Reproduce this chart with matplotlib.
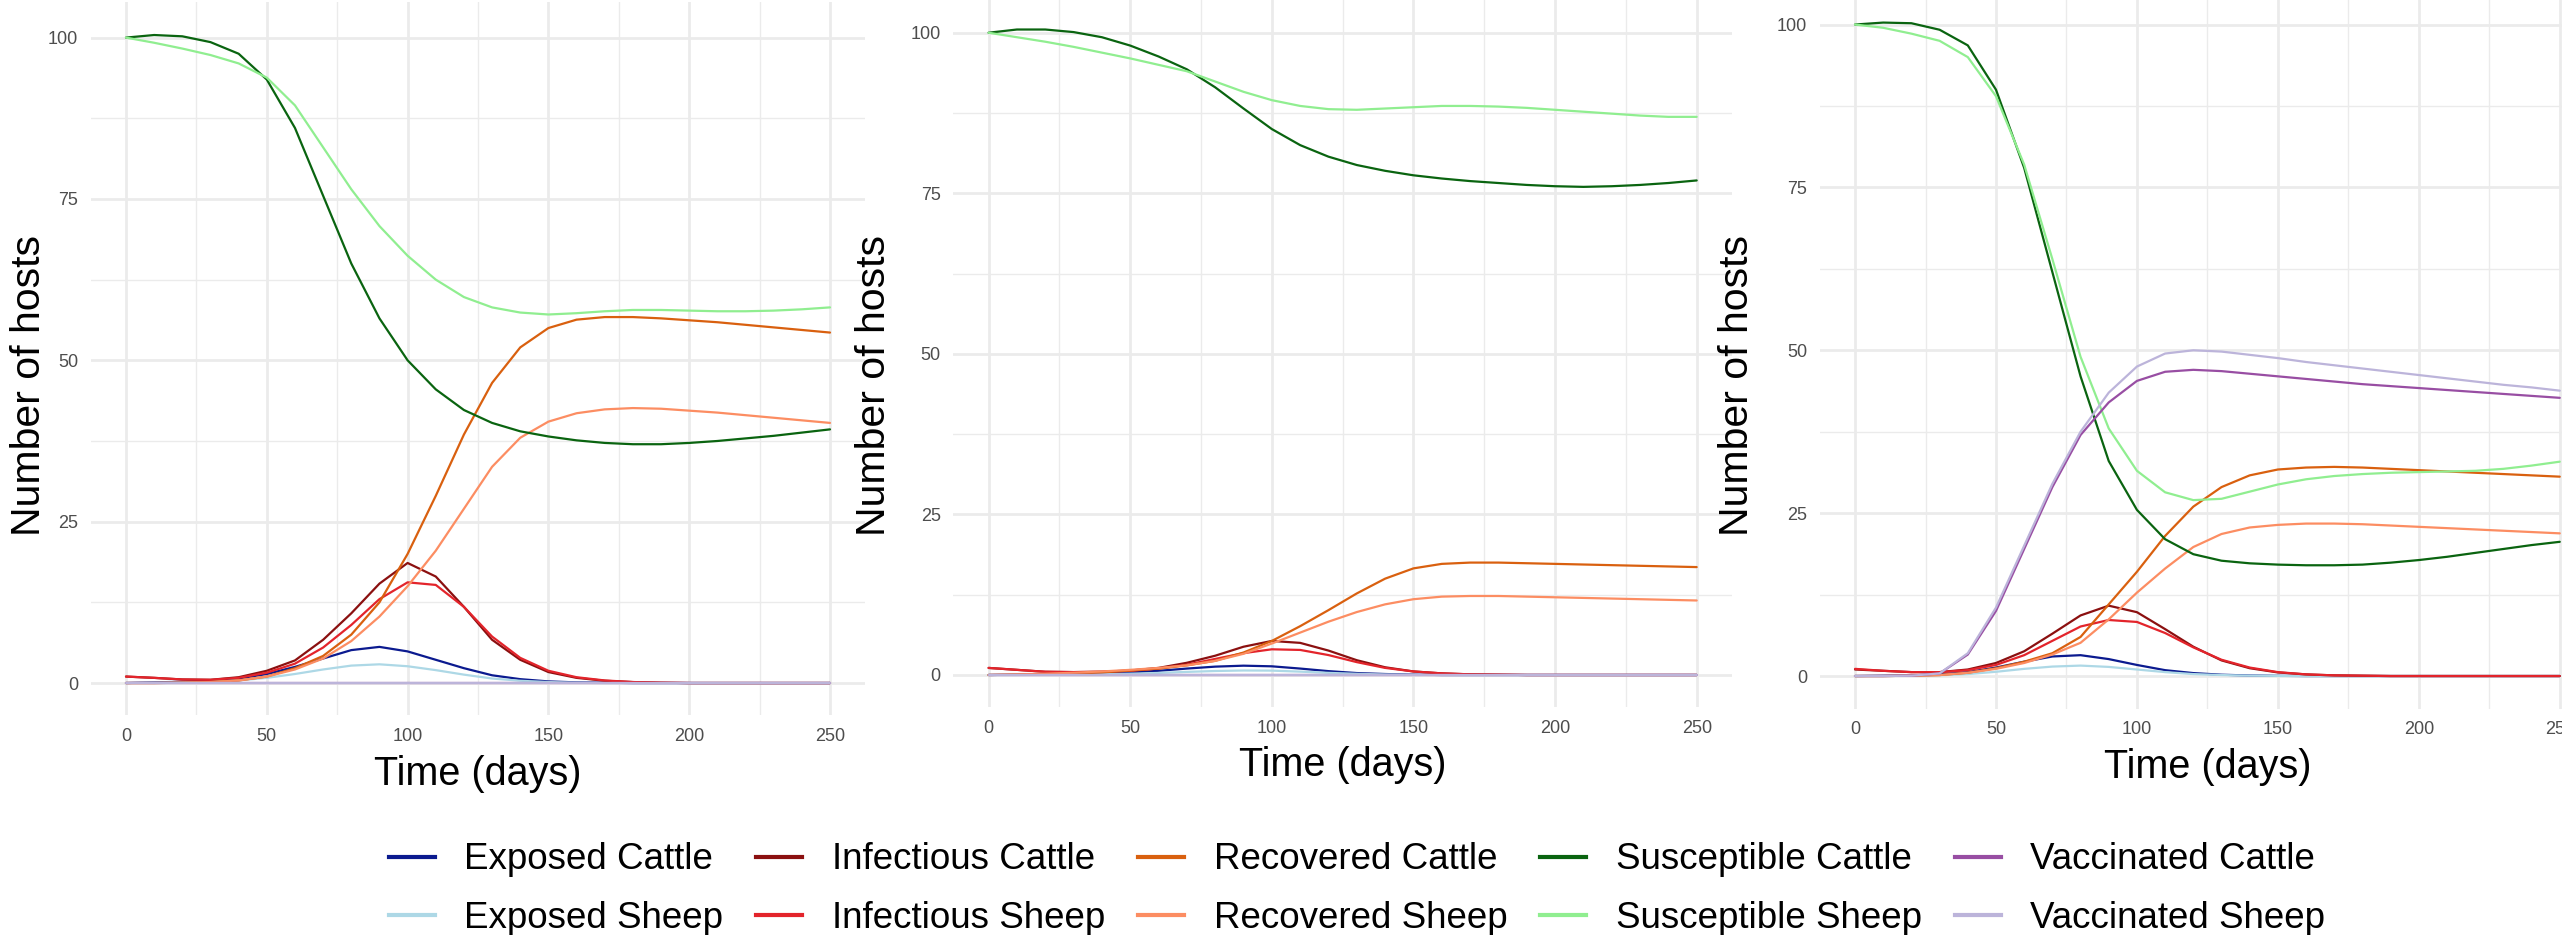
import matplotlib
matplotlib.use("Agg")
import matplotlib.pyplot as plt
from matplotlib.ticker import MultipleLocator

plt.rcParams['font.family'] = ['Liberation Sans', 'DejaVu Sans']

days = [0, 10, 20, 30, 40, 50, 60, 70, 80, 90, 100, 110, 120, 130, 140, 150,
        160, 170, 180, 190, 200, 210, 220, 230, 240, 250]

labels = ["Exposed Cattle", "Exposed Sheep", "Infectious Cattle", "Infectious Sheep",
          "Recovered Cattle", "Recovered Sheep", "Susceptible Cattle", "Susceptible Sheep",
          "Vaccinated Cattle", "Vaccinated Sheep"]
colors = ["#0b1a8f", "#add8e6", "#8b1010", "#e3242b", "#d9600f", "#fc8d62",
          "#0a6410", "#90ee90", "#984ea3", "#bcb4da"]

# panel 1
p1_exp_cattle = [0, 0.1, 0.2, 0.35, 0.7, 1.4, 2.5, 3.8, 5.1, 5.6, 4.9, 3.6, 2.3, 1.2, 0.6, 0.25,
                 0.1, 0.05, 0, 0, 0, 0, 0, 0, 0, 0]
p1_exp_sheep = [0, 0.05, 0.1, 0.2, 0.4, 0.8, 1.4, 2.1, 2.7, 2.9, 2.6, 2.0, 1.3, 0.7, 0.35, 0.15,
                0.05, 0, 0, 0, 0, 0, 0, 0, 0, 0]
p1_inf_cattle = [1.0, 0.8, 0.55, 0.5, 0.9, 1.9, 3.5, 6.7, 10.8, 15.4, 18.6, 16.5, 11.8, 6.7, 3.6, 1.7,
                 0.8, 0.35, 0.15, 0.05, 0, 0, 0, 0, 0, 0]
p1_inf_sheep = [1.0, 0.8, 0.55, 0.5, 0.8, 1.6, 3.0, 5.5, 9.0, 13.0, 15.6, 15.2, 11.8, 7.2, 3.9, 1.9,
                0.9, 0.4, 0.15, 0.05, 0, 0, 0, 0, 0, 0]
p1_rec_cattle = [0, 0, 0.05, 0.15, 0.4, 1.0, 2.3, 4.2, 7.5, 12.5, 20, 29, 38.5, 46.5, 52, 55,
                 56.3, 56.7, 56.7, 56.5, 56.2, 55.9, 55.5, 55.1, 54.7, 54.3]
p1_rec_sheep = [0, 0, 0.05, 0.15, 0.4, 1.0, 2.1, 3.8, 6.5, 10.3, 15, 20.5, 27, 33.5, 38, 40.5,
                41.8, 42.4, 42.6, 42.5, 42.2, 41.9, 41.5, 41.1, 40.7, 40.3]
p1_sus_cattle = [100, 100.4, 100.2, 99.3, 97.5, 93.5, 86, 75.5, 65, 56.5, 50, 45.5, 42.3, 40.3, 39, 38.2,
                 37.6, 37.2, 37.0, 37.0, 37.2, 37.5, 37.9, 38.3, 38.8, 39.3]
p1_sus_sheep = [100, 99.2, 98.3, 97.3, 96, 93.8, 89.5, 83, 76.5, 70.8, 66.2, 62.5, 59.8, 58.2, 57.4, 57.1,
                57.3, 57.6, 57.8, 57.8, 57.7, 57.6, 57.6, 57.7, 57.9, 58.2]
p1_vac_cattle = [0, 0, 0, 0, 0, 0, 0, 0, 0, 0, 0, 0, 0, 0, 0, 0, 0, 0, 0, 0, 0, 0, 0, 0, 0, 0]
p1_vac_sheep = [0, 0, 0, 0, 0, 0, 0, 0, 0, 0, 0, 0, 0, 0, 0, 0, 0, 0, 0, 0, 0, 0, 0, 0, 0, 0]

# panel 2
p2_exp_cattle = [0, 0.05, 0.1, 0.15, 0.25, 0.4, 0.65, 1.0, 1.3, 1.45, 1.35, 1.0, 0.6, 0.3, 0.15, 0.05,
                 0, 0, 0, 0, 0, 0, 0, 0, 0, 0]
p2_exp_sheep = [0, 0, 0.05, 0.08, 0.12, 0.2, 0.32, 0.48, 0.62, 0.7, 0.68, 0.52, 0.33, 0.18, 0.08, 0.03,
                0, 0, 0, 0, 0, 0, 0, 0, 0, 0]
p2_inf_cattle = [1.1, 0.8, 0.5, 0.45, 0.5, 0.7, 1.1, 1.9, 3.0, 4.4, 5.3, 5.0, 3.8, 2.3, 1.2, 0.55,
                 0.25, 0.1, 0.05, 0, 0, 0, 0, 0, 0, 0]
p2_inf_sheep = [1.1, 0.8, 0.5, 0.45, 0.5, 0.65, 1.0, 1.6, 2.5, 3.4, 4.0, 3.9, 3.1, 2.0, 1.1, 0.55,
                0.25, 0.1, 0.05, 0, 0, 0, 0, 0, 0, 0]
p2_rec_cattle = [0, 0.05, 0.1, 0.2, 0.4, 0.7, 1.0, 1.5, 2.2, 3.5, 5.3, 7.6, 10.1, 12.7, 15.0, 16.6,
                 17.3, 17.5, 17.5, 17.4, 17.3, 17.2, 17.1, 17.0, 16.9, 16.8]
p2_rec_sheep = [0, 0.1, 0.2, 0.35, 0.55, 0.8, 1.1, 1.5, 2.2, 3.3, 4.9, 6.6, 8.3, 9.8, 11.0, 11.8,
                12.2, 12.3, 12.3, 12.2, 12.1, 12.0, 11.9, 11.8, 11.7, 11.6]
p2_sus_cattle = [100, 100.5, 100.5, 100.1, 99.3, 98.0, 96.3, 94.3, 91.5, 88.2, 85, 82.5, 80.7, 79.4, 78.5, 77.8,
                 77.3, 76.9, 76.6, 76.3, 76.1, 76.0, 76.1, 76.3, 76.6, 77.0]
p2_sus_sheep = [100, 99.3, 98.6, 97.8, 96.9, 96, 95, 94.0, 92.4, 90.8, 89.5, 88.6, 88.1, 88.0, 88.2, 88.4,
                88.6, 88.6, 88.5, 88.3, 88.0, 87.7, 87.4, 87.1, 86.9, 86.9]
p2_vac_cattle = [0, 0, 0, 0, 0, 0, 0, 0, 0, 0, 0, 0, 0, 0, 0, 0, 0, 0, 0, 0, 0, 0, 0, 0, 0, 0]
p2_vac_sheep = [0, 0, 0, 0, 0, 0, 0, 0, 0, 0, 0, 0, 0, 0, 0, 0, 0, 0, 0, 0, 0, 0, 0, 0, 0, 0]

# panel 3
p3_exp_cattle = [0, 0.05, 0.1, 0.25, 0.6, 1.3, 2.2, 3.0, 3.2, 2.6, 1.7, 0.9, 0.45, 0.2, 0.08, 0.03,
                 0, 0, 0, 0, 0, 0, 0, 0, 0, 0]
p3_exp_sheep = [0, 0, 0.05, 0.12, 0.3, 0.65, 1.1, 1.45, 1.6, 1.4, 1.0, 0.6, 0.3, 0.15, 0.06, 0.02,
                0, 0, 0, 0, 0, 0, 0, 0, 0, 0]
p3_inf_cattle = [1.0, 0.8, 0.6, 0.6, 1.0, 2.0, 3.8, 6.5, 9.3, 10.8, 9.8, 7.2, 4.5, 2.4, 1.2, 0.55,
                 0.25, 0.1, 0.05, 0, 0, 0, 0, 0, 0, 0]
p3_inf_sheep = [1.1, 0.8, 0.6, 0.6, 0.9, 1.7, 3.2, 5.4, 7.6, 8.6, 8.3, 6.6, 4.4, 2.5, 1.3, 0.6,
                0.25, 0.1, 0.05, 0, 0, 0, 0, 0, 0, 0]
p3_rec_cattle = [0, 0, 0.05, 0.15, 0.5, 1.2, 2.2, 3.5, 6.0, 11, 16, 21.5, 26, 29, 30.8, 31.7,
                 32.0, 32.1, 32.0, 31.8, 31.6, 31.4, 31.2, 31.0, 30.8, 30.6]
p3_rec_sheep = [0, 0, 0.05, 0.15, 0.5, 1.1, 2.0, 3.3, 5.1, 8.7, 12.8, 16.5, 19.8, 21.8, 22.8, 23.2,
                23.4, 23.4, 23.3, 23.1, 22.9, 22.7, 22.5, 22.3, 22.1, 21.9]
p3_sus_cattle = [100, 100.3, 100.2, 99.2, 96.8, 90, 78, 62, 46, 33, 25.5, 21, 18.7, 17.7, 17.3, 17.1,
                 17.0, 17.0, 17.1, 17.4, 17.8, 18.3, 18.9, 19.5, 20.1, 20.6]
p3_sus_sheep = [100, 99.5, 98.6, 97.5, 95, 89, 78.5, 64, 49, 38, 31.5, 28.2, 27.0, 27.2, 28.3, 29.4,
                30.2, 30.7, 31.0, 31.2, 31.3, 31.4, 31.5, 31.8, 32.3, 32.9]
p3_vac_cattle = [0, 0, 0.05, 0.4, 3.3, 10, 19.5, 29, 37, 42, 45.3, 46.7, 47.0, 46.8, 46.4, 46.0,
                 45.6, 45.2, 44.8, 44.5, 44.2, 43.9, 43.6, 43.3, 43.0, 42.7]
p3_vac_sheep = [0, 0, 0.05, 0.4, 3.5, 10.5, 20, 29.5, 37.5, 43.5, 47.5, 49.5, 50, 49.8, 49.3, 48.8,
                48.2, 47.7, 47.2, 46.7, 46.2, 45.7, 45.2, 44.7, 44.3, 43.8]

panels = [
    [p1_exp_cattle, p1_exp_sheep, p1_inf_cattle, p1_inf_sheep, p1_rec_cattle,
     p1_rec_sheep, p1_sus_cattle, p1_sus_sheep, p1_vac_cattle, p1_vac_sheep],
    [p2_exp_cattle, p2_exp_sheep, p2_inf_cattle, p2_inf_sheep, p2_rec_cattle,
     p2_rec_sheep, p2_sus_cattle, p2_sus_sheep, p2_vac_cattle, p2_vac_sheep],
    [p3_exp_cattle, p3_exp_sheep, p3_inf_cattle, p3_inf_sheep, p3_rec_cattle,
     p3_rec_sheep, p3_sus_cattle, p3_sus_sheep, p3_vac_cattle, p3_vac_sheep],
]

W, H = 2562, 935
fig = plt.figure(figsize=(W / 100, H / 100), dpi=100)

# panel boxes in pixels: left, right, top, bottom (the picture is a crop, some run off the edge)
boxes = [(90.8, 865.2, 2.1, 715.3), (953.2, 1732.1, -2.6, 707.1), (1819.8, 2595, -11.3, 708.6)]
ylab_x = [29, 874, 1737]

for k, (l, r, t, b) in enumerate(boxes):
    ax = fig.add_axes([l / W, 1 - b / H, (r - l) / W, (b - t) / H])
    for vals, c in zip(panels[k], colors):
        ax.plot(days, vals, color=c, lw=1.6, solid_capstyle='round', solid_joinstyle='round')
    ax.set_xlim(-12.5, 262.5)
    ax.set_ylim(-5, 105.5)
    ax.xaxis.set_major_locator(MultipleLocator(50))
    ax.xaxis.set_minor_locator(MultipleLocator(25))
    ax.yaxis.set_major_locator(MultipleLocator(25))
    ax.yaxis.set_minor_locator(MultipleLocator(12.5))
    ax.grid(which='major', color='#ebebeb', lw=2.0)
    ax.grid(which='minor', color='#ebebeb', lw=1.0)
    ax.set_axisbelow(True)
    for s in ax.spines.values():
        s.set_visible(False)
    ax.tick_params(which='both', length=0, labelsize=13, labelcolor='#4d4d4d')
    ax.tick_params(axis='y', pad=9)
    ax.tick_params(axis='x', pad=9)
    ax.set_xlabel("Time (days)", fontsize=28.5, labelpad=7)
    fig.text(ylab_x[k] / W, 1 - 386 / H, "Number of hosts", rotation=90,
             fontsize=29.5, ha='center', va='center')

handles = [plt.Line2D([], [], color=c, lw=3) for c in colors]
fig.legend(handles, labels, loc='center', bbox_to_anchor=(1357 / W, 1 - 889 / H),
           ncol=5, frameon=False, fontsize=26.5, handlelength=1.25,
           handletextpad=0.8, columnspacing=0.9, labelspacing=0.63)

fig.savefig("out.png", dpi=100)
